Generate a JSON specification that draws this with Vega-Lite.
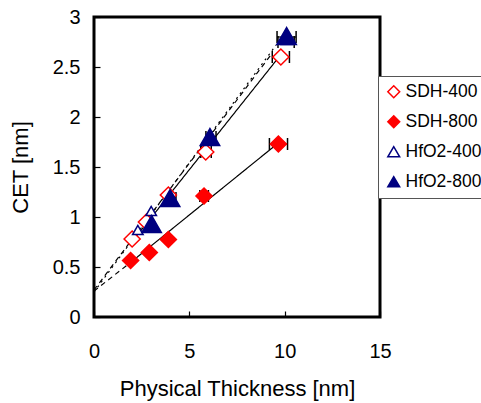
{
  "$schema": "https://vega.github.io/schema/vega-lite/v6.json",
  "width": 286,
  "height": 300,
  "autosize": {"type": "none"},
  "padding": {"left": 94, "top": 17, "right": 101, "bottom": 86},
  "background": "white",
  "config": {
    "font": "Liberation Sans",
    "view": {"stroke": "black", "strokeWidth": 3},
    "axis": {
      "domain": false,
      "grid": false,
      "tickSize": -6,
      "tickColor": "black",
      "tickWidth": 1.2,
      "labelFont": "Liberation Sans",
      "labelFontSize": 20,
      "labelColor": "black",
      "titleFont": "Liberation Sans",
      "titleFontSize": 22,
      "titleFontWeight": "normal",
      "titleColor": "black",
      "labelFlush": false
    },
    "legend": {
      "orient": "none", "legendX": 284, "legendY": 59,
      "strokeColor": "#555555", "fillColor": "white", "padding": 7, "rowPadding": 11,
      "labelFont": "Liberation Sans", "labelFontSize": 17.5, "labelColor": "black", "labelOffset": 3, "symbolSize": 140, "symbolStrokeWidth": 1.5
    }
  },
  "datasets": {
    "points": [
      {"series": "SDH-400", "x": 2.0, "y": 0.78},
      {"series": "SDH-400", "x": 2.75, "y": 0.95},
      {"series": "SDH-400", "x": 3.9, "y": 1.22},
      {"series": "SDH-400", "x": 5.86, "y": 1.65},
      {"series": "SDH-400", "x": 9.8, "y": 2.6},
      {"series": "SDH-800", "x": 1.92, "y": 0.565},
      {"series": "SDH-800", "x": 2.9, "y": 0.645},
      {"series": "SDH-800", "x": 3.9, "y": 0.775},
      {"series": "SDH-800", "x": 5.77, "y": 1.21},
      {"series": "SDH-800", "x": 9.67, "y": 1.73},
      {"series": "HfO2-400", "x": 2.3, "y": 0.87},
      {"series": "HfO2-400", "x": 3.0, "y": 1.06},
      {"series": "HfO2-400", "x": 4.0, "y": 1.19},
      {"series": "HfO2-400", "x": 6.05, "y": 1.79},
      {"series": "HfO2-400", "x": 10.1, "y": 2.77},
      {"series": "HfO2-800", "x": 3.02, "y": 0.93},
      {"series": "HfO2-800", "x": 3.99, "y": 1.19},
      {"series": "HfO2-800", "x": 6.08, "y": 1.8},
      {"series": "HfO2-800", "x": 10.1, "y": 2.81}
    ],
    "lines": [
      {"line": "L1", "style": "solid", "x": 1.9, "y": 0.73},
      {"line": "L1", "style": "solid", "x": 9.7, "y": 2.6},
      {"line": "L2", "style": "solid", "x": 1.95, "y": 0.55},
      {"line": "L2", "style": "solid", "x": 9.6, "y": 1.73},
      {"line": "L3", "style": "dashed", "x": 0, "y": 0.27},
      {"line": "L3", "style": "dashed", "x": 9.35, "y": 2.64},
      {"line": "L4", "style": "dashed", "x": 0, "y": 0.26},
      {"line": "L4", "style": "dashed", "x": 1.95, "y": 0.55},
      {"line": "L5", "style": "dotted", "x": 0, "y": 0.25},
      {"line": "L5", "style": "dotted", "x": 9.55, "y": 2.72}
    ],
    "errs": [
      {"series": "SDH-400", "y": 2.6, "xlo": 9.35, "xhi": 10.25},
      {"series": "SDH-800", "y": 1.73, "xlo": 9.2, "xhi": 10.15},
      {"series": "HfO2-400", "y": 2.75, "xlo": 9.65, "xhi": 10.5},
      {"series": "HfO2-800", "y": 2.8, "xlo": 9.6, "xhi": 10.6},
      {"series": "HfO2-800", "y": 1.8, "xlo": 5.87, "xhi": 6.4},
      {"series": "SDH-400", "y": 1.65, "xlo": 5.6, "xhi": 6.15},
      {"series": "SDH-800", "y": 1.21, "xlo": 5.55, "xhi": 6.0},
      {"series": "HfO2-800", "y": 1.19, "xlo": 3.7, "xhi": 4.3}
    ]
  },
  "layer": [
    {
      "data": {"name": "lines"},
      "mark": {"type": "line", "color": "black", "strokeWidth": 1.2},
      "encoding": {
        "x": {"field": "x", "type": "quantitative", "scale": {"domain": [0, 15], "nice": false}, "title": "Physical Thickness [nm]",
              "axis": {"values": [0, 5, 10, 15], "format": "d", "labelPadding": 30, "titlePadding": 17, "tickSize": -6}},
        "y": {"field": "y", "type": "quantitative", "scale": {"domain": [0, 3], "nice": false}, "title": "CET [nm]",
              "axis": {"values": [0, 0.5, 1, 1.5, 2, 2.5, 3], "format": "~g", "labelPadding": 20, "titlePadding": 20, "tickSize": -6}},
        "detail": {"field": "line"},
        "strokeDash": {"field": "style", "type": "nominal", "scale": {"domain": ["solid", "dashed", "dotted"], "range": [[1, 0], [5, 4], [2, 4]]}, "legend": null}
      }
    },
    {
      "data": {"name": "errs"},
      "mark": {"type": "rule", "color": "black", "strokeWidth": 1.2},
      "encoding": {
        "x": {"field": "xlo", "type": "quantitative", "title": "Physical Thickness [nm]"},
        "x2": {"field": "xhi"},
        "y": {"field": "y", "type": "quantitative", "title": "CET [nm]"}
      }
    },
    {
      "data": {"name": "errs"},
      "mark": {"type": "tick", "orient": "vertical", "color": "black", "size": 12, "thickness": 1.5, "opacity": 1},
      "encoding": {
        "x": {"field": "xlo", "type": "quantitative", "title": "Physical Thickness [nm]"},
        "y": {"field": "y", "type": "quantitative", "title": "CET [nm]"}
      }
    },
    {
      "data": {"name": "errs"},
      "mark": {"type": "tick", "orient": "vertical", "color": "black", "size": 12, "thickness": 1.5, "opacity": 1},
      "encoding": {
        "x": {"field": "xhi", "type": "quantitative", "title": "Physical Thickness [nm]"},
        "y": {"field": "y", "type": "quantitative", "title": "CET [nm]"}
      }
    },
    {
      "data": {"name": "points"},
      "transform": [{"filter": {"field": "series", "oneOf": ["SDH-400", "SDH-800"]}}],
      "mark": {"type": "point", "strokeWidth": 1.5, "opacity": 1, "size": 260},
      "encoding": {
        "x": {"field": "x", "type": "quantitative", "title": "Physical Thickness [nm]"},
        "y": {"field": "y", "type": "quantitative", "title": "CET [nm]"},
        "shape": {"field": "series", "type": "nominal", "title": null,
                  "scale": {"domain": ["SDH-400", "SDH-800", "HfO2-400", "HfO2-800"], "range": ["diamond", "diamond", "triangle-up", "triangle-up"]}},
        "stroke": {"field": "series", "type": "nominal", "title": null,
                   "scale": {"domain": ["SDH-400", "SDH-800", "HfO2-400", "HfO2-800"], "range": ["#FF0000", "#FF0000", "#000080", "#000080"]}},
        "fill": {"field": "series", "type": "nominal", "title": null,
                 "scale": {"domain": ["SDH-400", "SDH-800", "HfO2-400", "HfO2-800"], "range": ["white", "#FF0000", "white", "#000080"]}}
      }
    },
    {
      "data": {"name": "points"},
      "transform": [{"filter": {"field": "series", "equal": "HfO2-400"}}],
      "mark": {"type": "point", "strokeWidth": 1.5, "opacity": 1, "size": 110},
      "encoding": {
        "x": {"field": "x", "type": "quantitative", "title": "Physical Thickness [nm]"},
        "y": {"field": "y", "type": "quantitative", "title": "CET [nm]"},
        "shape": {"field": "series", "type": "nominal", "title": null},
        "stroke": {"field": "series", "type": "nominal", "title": null},
        "fill": {"field": "series", "type": "nominal", "title": null}
      }
    },
    {
      "data": {"name": "points"},
      "transform": [{"filter": {"field": "series", "equal": "HfO2-800"}}],
      "mark": {"type": "point", "strokeWidth": 1.5, "opacity": 1, "size": 380},
      "encoding": {
        "x": {"field": "x", "type": "quantitative", "title": "Physical Thickness [nm]"},
        "y": {"field": "y", "type": "quantitative", "title": "CET [nm]"},
        "shape": {"field": "series", "type": "nominal", "title": null},
        "stroke": {"field": "series", "type": "nominal", "title": null},
        "fill": {"field": "series", "type": "nominal", "title": null}
      }
    }
  ]
}
